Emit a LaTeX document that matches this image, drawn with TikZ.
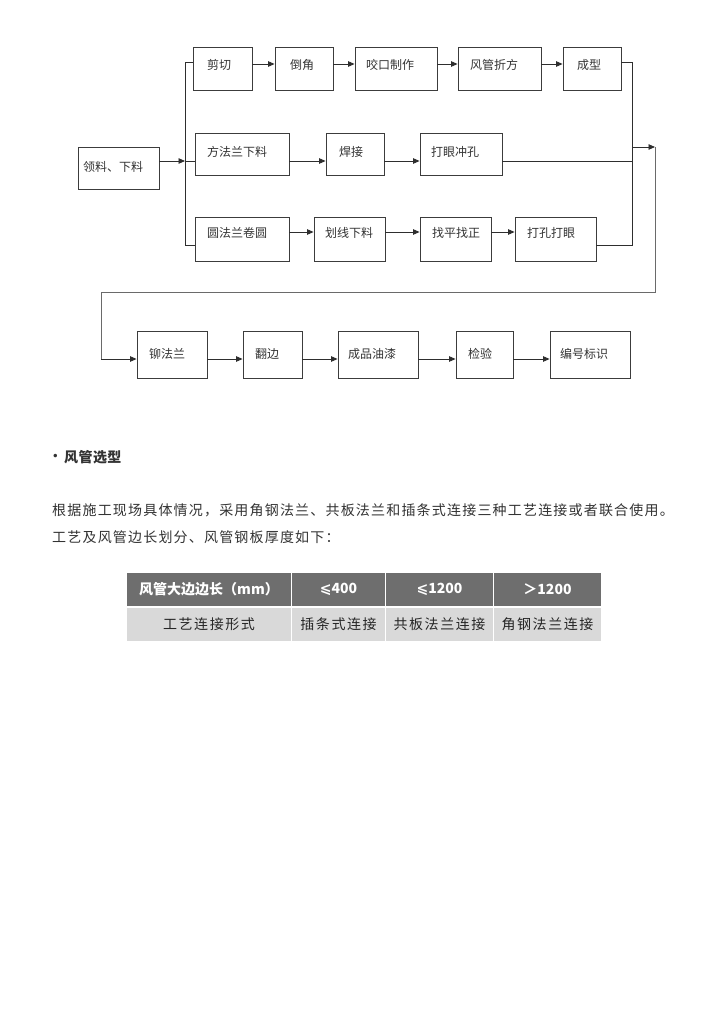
\documentclass[tikz,border=0pt]{standalone}
\usepackage{fontspec}
\setmainfont{Noto Sans CJK SC}
\newfontfamily\djv{DejaVu Sans}
\usetikzlibrary{arrows.meta,fit}
\definecolor{linec}{HTML}{2E2E2E}
\definecolor{loopc}{HTML}{6A6A6A}
\definecolor{boxc}{HTML}{3C3C3C}
\definecolor{txtc}{HTML}{333333}
\definecolor{bodyc}{HTML}{333333}
\definecolor{headfill}{HTML}{6E6E6E}
\definecolor{cellfill}{HTML}{D9D9D9}
\newcommand\flowbox[8]{%
  \path (#2,#3) coordinate (#1-nw) (#4,#5) coordinate (#1-se);
  \node[box, fit=(#1-nw)(#1-se)] (#1) {};
  \node[lbl, anchor=west] (#1-t) at (#2+#7,#8) {#6};
}
\begin{document}
\begin{tikzpicture}[x=1pt,y=-1pt,
  box/.style={draw=boxc, line width=0.9pt, inner sep=0pt},
  lbl/.style={font=\fontsize{12}{13}\selectfont, text=txtc, inner sep=0pt},
  conn/.style={draw=linec, line width=0.9pt},
  loopline/.style={draw=loopc, line width=1pt},
  arr/.style={conn, -{Triangle[length=6.5pt,width=5.5pt]}},
  hcell/.style={fill=headfill, inner sep=0pt, text=white, font=\fontsize{14}{16}\selectfont\bfseries},
  bcell/.style={fill=cellfill, inner sep=0pt, text=black!85, font=\fontsize{14}{16}\selectfont\addfontfeature{LetterSpace=11}},
  para/.style={inner sep=0pt, text=bodyc, anchor=west, font=\fontsize{14}{16}\selectfont\addfontfeature{LetterSpace=8.5}}
]
\useasboundingbox (0,0) rectangle (724,1024);
\fill[white] (0,0) rectangle (724,1024);

% row 1
\flowbox{jq}{193}{47}{252}{90}{剪切}{14}{65}
\flowbox{dj}{275}{47}{333}{90}{倒角}{15}{65}
\flowbox{yk}{355}{47}{437}{90}{咬口制作}{11}{65}
\flowbox{zf}{458}{47}{541}{90}{风管折方}{12}{65}
\flowbox{cx}{563}{47}{621}{90}{成型}{14}{65}
% row 2
\flowbox{ll}{78}{147}{159}{189}{领料、下料}{5}{167}
\flowbox{ff}{195}{133}{289}{175}{方法兰下料}{12}{152}
\flowbox{hj}{326}{133}{384}{175}{焊接}{13}{152}
\flowbox{dy}{420}{133}{502}{175}{打眼冲孔}{11}{152}
% row 3
\flowbox{yf}{195}{217}{289}{261}{圆法兰卷圆}{12}{233}
\flowbox{hx}{314}{217}{385}{261}{划线下料}{11}{233}
\flowbox{zp}{420}{217}{491}{261}{找平找正}{12}{233}
\flowbox{dk}{515}{217}{596}{261}{打孔打眼}{12}{233}
% row 4
\flowbox{mf}{137}{331}{207}{378}{铆法兰}{12}{354}
\flowbox{fb}{243}{331}{302}{378}{翻边}{12}{354}
\flowbox{yq}{338}{331}{418}{378}{成品油漆}{10}{354}
\flowbox{jy}{456}{331}{513}{378}{检验}{12}{354}
\flowbox{bh}{550}{331}{630}{378}{编号标识}{10}{354}

% branch coordinates
\coordinate (bt) at (185,62);
\coordinate (bm) at (185,161);
\coordinate (bb) at (185,245);
\coordinate (rt) at (632,62);
\coordinate (rm) at (632,161);
\coordinate (ra) at (632,147);
\coordinate (rb) at (632,245);
\coordinate (lt) at (655,147);
\coordinate (lr) at (655,292);
\coordinate (ll2) at (101,292);
\coordinate (lb) at (101,359);

% left branching
\draw[conn] (jq.west |- bt) -- (bt) -- (bb) -- (yf.west |- bb);
\draw[arr] (ll.east |- bm) -- (bm);
\draw[conn] (bm) -- (ff.west |- bm);

% row arrows
\draw[arr] (jq.east |- 0,64) -- (dj.west |- 0,64);
\draw[arr] (dj.east |- 0,64) -- (yk.west |- 0,64);
\draw[arr] (yk.east |- 0,64) -- (zf.west |- 0,64);
\draw[arr] (zf.east |- 0,64) -- (cx.west |- 0,64);

\draw[arr] (ff.east |- 0,161) -- (hj.west |- 0,161);
\draw[arr] (hj.east |- 0,161) -- (dy.west |- 0,161);

\draw[arr] (yf.east |- 0,232) -- (hx.west |- 0,232);
\draw[arr] (hx.east |- 0,232) -- (zp.west |- 0,232);
\draw[arr] (zp.east |- 0,232) -- (dk.west |- 0,232);

\draw[arr] (mf.east |- 0,359) -- (fb.west |- 0,359);
\draw[arr] (fb.east |- 0,359) -- (yq.west |- 0,359);
\draw[arr] (yq.east |- 0,359) -- (jy.west |- 0,359);
\draw[arr] (jy.east |- 0,359) -- (bh.west |- 0,359);

% right merging
\draw[conn] (cx.east |- rt) -- (rt) -- (rb) -- (dk.east |- rb);
\draw[conn] (dy.east |- rm) -- (rm);
\draw[arr] (ra) -- (lt);
\draw[loopline] (lt) -- (lr) -- (ll2) -- (lb);
\draw[arr] (lb) -- (mf.west |- lb);

% text section
\node[inner sep=0pt, text=bodyc, font=\djv\fontsize{12}{14}\selectfont] (bul) at (55.5,457) {•};
\node[inner sep=0pt, text=bodyc, anchor=west, font=\fontsize{14}{16}\selectfont\bfseries\addfontfeature{LetterSpace=3}] (ttl) at (64,457) {风管选型};
\node[para] (p1) at (52,510) {根据施工现场具体情况，采用角钢法兰、共板法兰和插条式连接三种工艺连接或者联合使用。};
\node[para] (p2) at (52,537) {工艺及风管边长划分、风管钢板厚度如下：};

% table
\node[hcell, minimum width=164pt, minimum height=33pt] (h1) at (209,589.5) {风管大边边长（mm）};
\node[hcell, minimum width=93pt, minimum height=33pt] (h2) at (338.5,589.5) {{\djv ⩽}400};
\node[hcell, minimum width=107pt, minimum height=33pt] (h3) at (439.5,589.5) {{\djv ⩽}1200};
\node[hcell, minimum width=107pt, minimum height=33pt] (h4) at (547.5,589.5) {＞1200};
\node[bcell, minimum width=164pt, minimum height=33pt] (b1) at (209,624.5) {工艺连接形式};
\node[bcell, minimum width=93pt, minimum height=33pt] (b2) at (338.5,624.5) {插条式连接};
\node[bcell, minimum width=107pt, minimum height=33pt] (b3) at (439.5,624.5) {共板法兰连接};
\node[bcell, minimum width=107pt, minimum height=33pt] (b4) at (547.5,624.5) {角钢法兰连接};
\end{tikzpicture}
\end{document}
